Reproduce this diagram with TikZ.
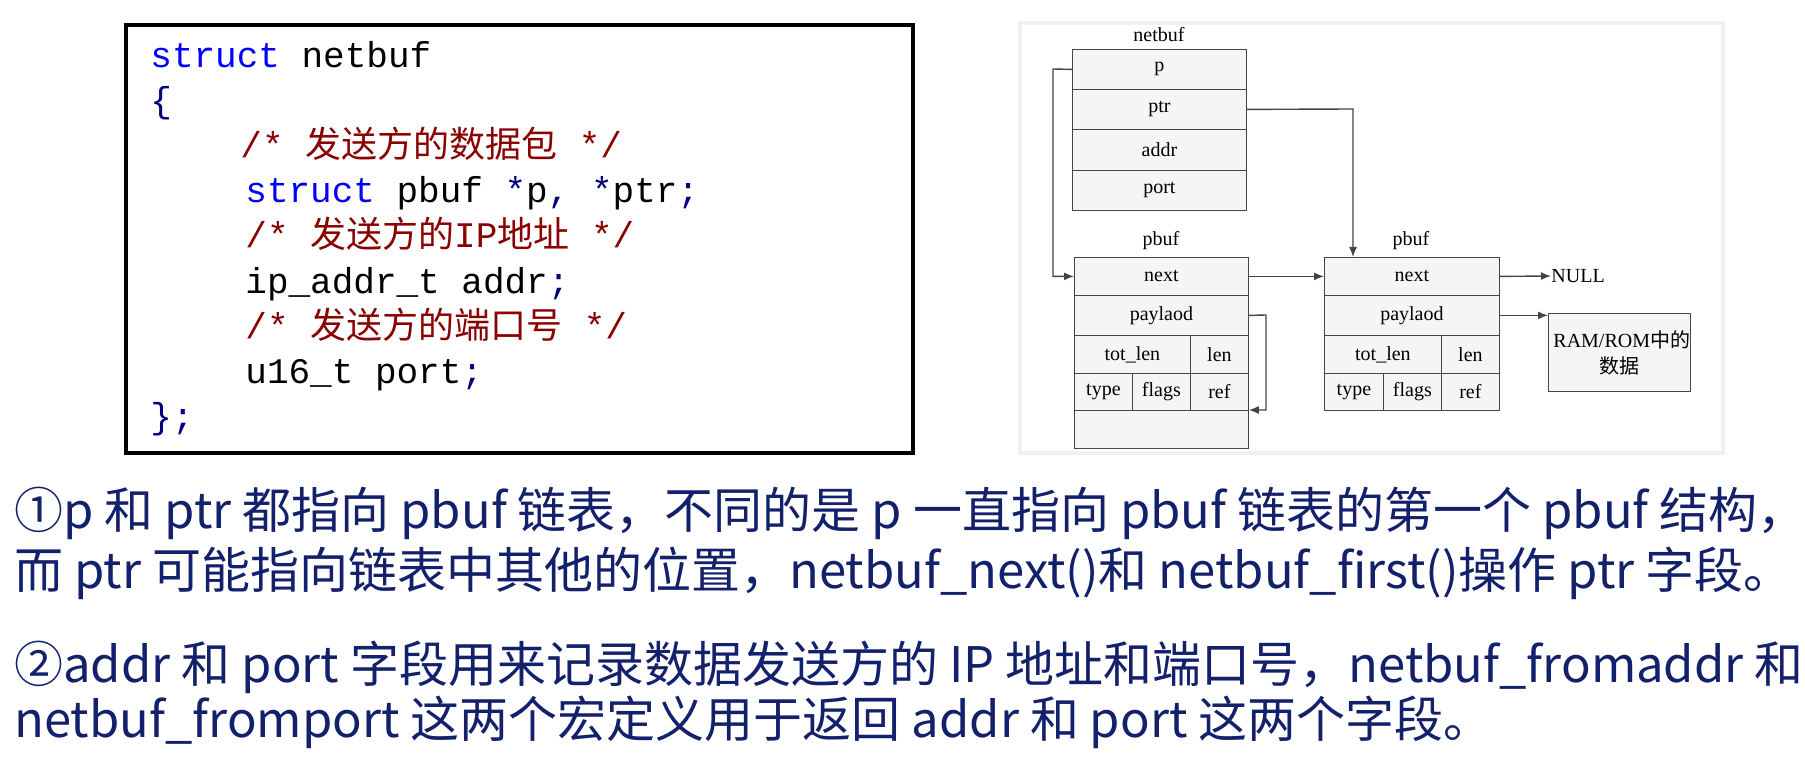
\documentclass[tikz,border=0pt]{standalone}
\usepackage{fontspec}
\setmainfont{Liberation Serif}
\setmonofont{Liberation Mono}
\newfontfamily\cjk{Noto Sans CJK SC}
\usetikzlibrary{arrows.meta}
\definecolor{kwblue}{HTML}{0000FF}
\definecolor{cmtred}{HTML}{8B0000}
\definecolor{punct}{HTML}{000080}
\definecolor{notecol}{HTML}{13206B}
\definecolor{linegray}{HTML}{444444}

\begin{document}
\begin{tikzpicture}[x=0.5pt, y=-0.5pt]
    \tikzstyle{every node} = [align=center, inner sep=0pt]
    \tikzstyle{cell} = [draw=linegray, fill=gray!8, anchor=north west, font=\fontsize{10}{11}\selectfont]
    \tikzstyle{codeline} = [anchor=base west, font=\ttfamily\fontsize{18}{20}\selectfont]
    \tikzstyle{note} = [anchor=west, text=notecol, font=\cjk\fontsize{24.5}{28}\selectfont]
    \tikzstyle{link} = [draw=linegray, line width=0.7pt, -{Latex[length=5pt,width=4pt]}]
    \useasboundingbox (0,0) rectangle (1805,759);
    \fill[white] (0,0) rectangle (1805,759);

    % code box
    \draw[line width=2pt] (126,25) rectangle (913,453);
    \node[codeline] (c1) at (150,68) {\textcolor{kwblue}{struct} netbuf};
    \node[codeline] (c2) at (150,113) {\textcolor{punct}{\{}};
    \node[codeline, text=cmtred] (c3) at (240,158) {/* {\cjk 发送方的数据包} */};
    \node[codeline] (c4) at (245,203) {\textcolor{kwblue}{struct} pbuf \textcolor{punct}{*}p\textcolor{punct}{,} \textcolor{punct}{*}ptr\textcolor{punct}{;}};
    \node[codeline, text=cmtred] (c5) at (245,248) {/* {\cjk 发送方的}IP{\cjk 地址} */};
    \node[codeline] (c6) at (245,293) {ip\_addr\_t addr\textcolor{punct}{;}};
    \node[codeline, text=cmtred] (c7) at (245,338) {/* {\cjk 发送方的端口号} */};
    \node[codeline] (c8) at (245,383) {u16\_t port\textcolor{punct}{;}};
    \node[codeline, text=punct] (c9) at (150,428) {\};};

    % diagram panel
    \fill[gray!12] (1018,21) rectangle (1725,455);
    \fill[white] (1022,25) rectangle (1721,451);

    % netbuf
    \node[font=\fontsize{10}{11}\selectfont] (nblabel) at (1159,35) {netbuf};
    \node[cell, minimum width=87pt, minimum height=20pt] (np) at (1072,49) {p};
    \node[cell, minimum width=87pt, minimum height=20pt] (nptr) at (1072,89) {ptr};
    \node[cell, minimum width=87pt, minimum height=20.5pt] (naddr) at (1072,129) {addr};
    \node[cell, minimum width=87pt, minimum height=20pt] (nport) at (1072,170) {port};

    % first pbuf
    \node[font=\fontsize{10}{11}\selectfont] (alabel) at (1161,241) {pbuf};
    \node[cell, minimum width=87pt, minimum height=19pt] (anext) at (1074,257) {next};
    \node[cell, minimum width=87pt, minimum height=20pt] (apay) at (1074,295) {paylaod};
    \node[cell, minimum width=58pt, minimum height=19pt] (atot) at (1074,335) {tot\_len};
    \node[cell, minimum width=29pt, minimum height=19pt] (alen) at (1190,335) {len};
    \node[cell, minimum width=29pt, minimum height=18.5pt] (atype) at (1074,373) {type};
    \node[cell, minimum width=29pt, minimum height=18.5pt] (aflags) at (1132,373) {flags};
    \node[cell, minimum width=29pt, minimum height=18.5pt] (aref) at (1190,373) {ref};
    \node[cell, minimum width=87pt, minimum height=19pt] (arest) at (1074,410) {};

    % second pbuf
    \node[font=\fontsize{10}{11}\selectfont] (blabel) at (1411,241) {pbuf};
    \node[cell, minimum width=87.5pt, minimum height=19pt] (bnext) at (1324,257) {next};
    \node[cell, minimum width=87.5pt, minimum height=20pt] (bpay) at (1324,295) {paylaod};
    \node[cell, minimum width=58.5pt, minimum height=19pt] (btot) at (1324,335) {tot\_len};
    \node[cell, minimum width=29pt, minimum height=19pt] (blen) at (1441,335) {len};
    \node[cell, minimum width=29.5pt, minimum height=18.5pt] (btype) at (1324,373) {type};
    \node[cell, minimum width=29pt, minimum height=18.5pt] (bflags) at (1383,373) {flags};
    \node[cell, minimum width=29pt, minimum height=18.5pt] (bref) at (1441,373) {ref};

    \node[font=\fontsize{10}{11}\selectfont, anchor=west] (null) at (1551,276) {NULL};
    \node[cell, minimum width=71pt, minimum height=39pt, text width=66pt,
          font=\fontsize{10}{13}\selectfont] (ram) at (1548,313) {RAM/ROM{\cjk 中的}\\{\cjk 数据}};

    % pointers
    \coordinate (pturn) at (1053,69);
    \coordinate (ptrturn) at (1353,109);
    \coordinate (payturn) at (1266,315);
    \draw[link] (np.west) -- (pturn) |- (anext.west);
    \draw[link] (nptr.east) -- (ptrturn) -- (ptrturn |- bnext.north);
    \draw[link] (anext.east) -- (bnext.west);
    \draw[link] (apay.east) -- (payturn) |- (arest.north east);
    \draw[link] (bnext.east) -- (null.west);
    \draw[link] (bpay.east) -- (ram.north west |- bpay.east);

    % notes
    \node[note] (n1) at (14,513) {①p 和 ptr 都指向 pbuf 链表，不同的是 p 一直指向 pbuf 链表的第一个 pbuf 结构，};
    \node[note] (n2) at (14,573) {而 ptr 可能指向链表中其他的位置，netbuf\_next()和 netbuf\_first()操作 ptr 字段。};
    \node[note] (n3) at (14,667) {②addr 和 port 字段用来记录数据发送方的 IP 地址和端口号，netbuf\_fromaddr 和};
    \node[note] (n4) at (14,722) {netbuf\_fromport 这两个宏定义用于返回 addr 和 port 这两个字段。};
\end{tikzpicture}
\end{document}
